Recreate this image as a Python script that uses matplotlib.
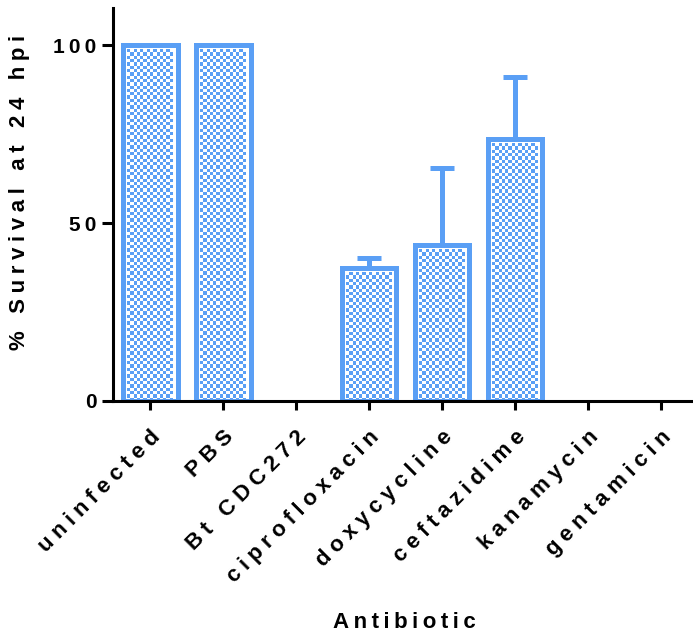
import matplotlib
matplotlib.use("Agg")
import matplotlib.pyplot as plt
import numpy as np

categories = ["uninfected", "PBS", "Bt CDC272", "ciprofloxacin", "doxycycline",
              "ceftazidime", "kanamycin", "gentamicin"]
survival = [100, 100, 0, 37.3, 43.8, 73.6, 0, 0]
err_upper = [0, 0, 0, 2.9, 21.6, 17.4, 0, 0]

blue = "#5A9FF5"


def spaced(s, sp="\u2009"):
    # wide letter spacing as in the original figure
    return sp.join(s)


plt.rcParams["font.family"] = ["Liberation Sans", "DejaVu Sans"]
plt.rcParams["font.weight"] = "bold"

fig = plt.figure(figsize=(6.93, 6.33), dpi=100)
ax = fig.add_axes([113 / 693, 232 / 633, 580 / 693, 393 / 633])

x = np.arange(len(categories))
vals = np.array(survival, dtype=float)
edges = [blue if v > 0 else "none" for v in vals]
bars = ax.bar(x, vals, width=0.75, color="none", edgecolor=edges, linewidth=3.6,
              zorder=2)
mask = np.array(err_upper) > 0
ax.errorbar(x[mask], vals[mask],
            yerr=[np.zeros(mask.sum()), np.array(err_upper)[mask]],
            fmt="none", ecolor=blue, elinewidth=3.6, capsize=8.5, capthick=3.6,
            zorder=1)

ax.set_xlim(-0.51, 7.44)
ax.set_ylim(0, 110.5)
ax.set_yticks([0, 50, 100])
ax.set_yticklabels([spaced(str(t)) for t in [0, 50, 100]])
ax.set_xticks(x)
ax.set_xticklabels([spaced(c, "\u2005") for c in categories], rotation=45,
                   ha="right", rotation_mode="anchor", fontsize=16,
                   fontweight="bold")
ax.tick_params(axis="y", labelsize=15, width=2.2, length=8, pad=4)
ax.tick_params(axis="x", width=2.2, length=6.5, pad=12)
for s in ["top", "right"]:
    ax.spines[s].set_visible(False)
for s in ["left", "bottom"]:
    ax.spines[s].set_linewidth(2.2)

# checkerboard fill inside each bar
cell = 3.3  # px
inv = ax.transData.inverted()
cmap = matplotlib.colors.ListedColormap(["white", blue])
for b in bars:
    if b.get_height() <= 0:
        continue
    (x0, y0), (x1, y1) = ax.transData.transform(
        [(b.get_x(), b.get_y()), (b.get_x() + b.get_width(), b.get_height())])
    ins = 4.5
    px0, px1, py0, py1 = x0 + ins, x1 - ins, y0, y1 - ins
    nc = max(1, int(round((px1 - px0) / cell)))
    nr = max(1, int(round((py1 - py0) / cell)))
    checker = (np.add.outer(np.arange(nr), np.arange(nc)) % 2).astype(float)
    (dx0, dy0), (dx1, dy1) = inv.transform([(px0, py0), (px1, py1)])
    ax.imshow(checker, extent=(dx0, dx1, dy0, dy1), origin="lower", cmap=cmap,
              interpolation="nearest", aspect="auto", zorder=1.5)
ax.set_xlim(-0.51, 7.44)
ax.set_ylim(0, 110.5)

ax.set_ylabel(spaced("% Survival at 24 hpi", "\u2005"), fontsize=16,
              fontweight="bold")
ax.yaxis.set_label_coords(-0.143, 0.53)
fig.text(404 / 693, 5 / 633, spaced("Antibiotic"), ha="center", va="baseline",
         fontsize=16, fontweight="bold")

fig.savefig("out.png", dpi=100)
